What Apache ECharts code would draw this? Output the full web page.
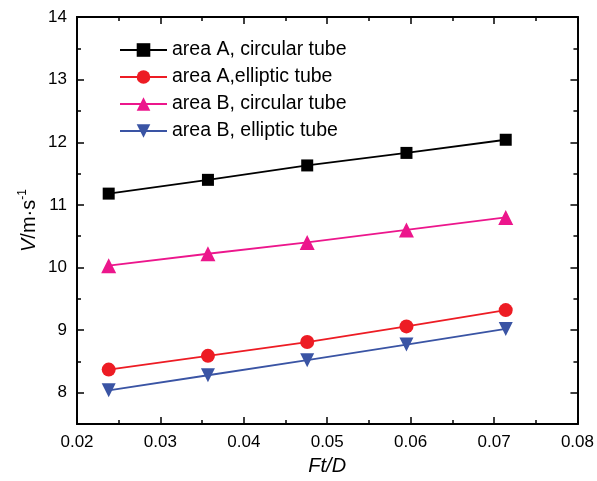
<!DOCTYPE html>
<html><head><meta charset="utf-8">
<script src="https://cdn.jsdelivr.net/npm/echarts@6/dist/echarts.min.js"></script>
<style>html,body{margin:0;padding:0;background:#fff}#c{width:597px;height:481px}</style>
</head><body><div id="c"></div>
<script>
const xValues = [0.0238, 0.0357, 0.0476, 0.0595, 0.0714];
const seriesNames = ['area A, circular tube', 'area A,elliptic tube', 'area B, circular tube', 'area B, elliptic tube'];
const areaACircular = [11.18, 11.40, 11.63, 11.83, 12.04];
const areaAElliptic = [8.37, 8.59, 8.81, 9.06, 9.32];
const areaBCircular = [10.03, 10.22, 10.40, 10.60, 10.80];
const areaBElliptic = [8.04, 8.28, 8.52, 8.77, 9.02];
const yTicks = [8, 9, 10, 11, 12, 13, 14];

const colors = ['#000000', '#ed1c24', '#ec168c', '#3a54a4'];
const symbols = ['rect', 'circle', 'triangle', 'path://M0,0 L10,0 L5,10 Z'];
const symSizes = [12, 14, 15, 14];
const allData = [areaACircular, areaAElliptic, areaBCircular, areaBElliptic];
const FONT = 'Liberation Sans, Arial, sans-serif';

const series = allData.map((vals, i) => ({
  name: seriesNames[i],
  type: 'line',
  data: vals.map((v, j) => [xValues[j], v]),
  symbol: symbols[i],
  symbolSize: symSizes[i],
  showAllSymbol: true,
  itemStyle: { color: colors[i], opacity: 1 },
  lineStyle: { color: colors[i], width: 1.8 },
  emphasis: { disabled: true },
  z: 10 - i
}));

const yBase = { type: 'value', min: 7.5, max: 14, splitLine: { show: false },
  axisLine: { show: true, onZero: false, lineStyle: { color: '#000', width: 1.8 } } };

const chart = echarts.init(document.getElementById('c'), null, { renderer: 'canvas' });
chart.setOption({
  animation: false,
  backgroundColor: '#fff',
  grid: { left: 77, right: 17, top: 17, bottom: 56, containLabel: false },
  legend: {
    orient: 'vertical', left: 114, top: 35,
    itemWidth: 47, itemHeight: 17, itemGap: 7,
    textStyle: { fontFamily: FONT, fontSize: 19.5, color: '#000' },
    data: seriesNames
  },
  xAxis: [
    { type: 'value', min: 0.02, max: 0.08, interval: 0.01, position: 'bottom',
      name: 'Ft/D', nameLocation: 'middle', nameGap: 31,
      nameTextStyle: { fontFamily: FONT, fontSize: 20, fontStyle: 'italic', color: '#000' },
      axisLine: { show: true, onZero: false, lineStyle: { color: '#000', width: 1.8 } },
      axisTick: { show: true, inside: true, length: 7, lineStyle: { color: '#000', width: 1.5 } },
      minorTick: { show: true, splitNumber: 2, length: 4, lineStyle: { color: '#000', width: 1.5 } },
      axisLabel: { fontFamily: FONT, fontSize: 17, color: '#000', margin: 10, formatter: v => v.toFixed(2) },
      splitLine: { show: false } },
    { type: 'value', min: 0.02, max: 0.08, interval: 0.01, position: 'top',
      axisLine: { show: true, onZero: false, lineStyle: { color: '#000', width: 1.8 } },
      axisTick: { show: true, inside: true, length: 7, lineStyle: { color: '#000', width: 1.5 } },
      minorTick: { show: true, splitNumber: 2, length: 4, lineStyle: { color: '#000', width: 1.5 } },
      axisLabel: { show: false }, splitLine: { show: false } }
  ],
  yAxis: [
    Object.assign({}, yBase, { position: 'left', interval: 0.5,
      axisTick: { show: true, inside: true, length: 4, lineStyle: { color: '#000', width: 1.5 } },
      axisLabel: { show: false },
      name: '{i|V}{n|/m·s}{s|-1}', nameLocation: 'middle', nameRotate: 90, nameGap: 36,
      nameTextStyle: { fontFamily: FONT, color: '#000', rich: {
        i: { fontFamily: FONT, fontSize: 20, fontStyle: 'italic', lineHeight: 24 },
        n: { fontFamily: FONT, fontSize: 20, lineHeight: 24 },
        s: { fontFamily: FONT, fontSize: 12, lineHeight: 13, verticalAlign: 'top' } } } }),
    Object.assign({}, yBase, { position: 'left',
      axisTick: { show: true, inside: true, length: 7, customValues: yTicks, lineStyle: { color: '#000', width: 1.5 } },
      axisLabel: { fontFamily: FONT, fontSize: 17, color: '#000', margin: 10, customValues: yTicks } }),
    Object.assign({}, yBase, { position: 'right', interval: 0.5,
      axisTick: { show: true, inside: true, length: 4, lineStyle: { color: '#000', width: 1.5 } },
      axisLabel: { show: false } }),
    Object.assign({}, yBase, { position: 'right',
      axisTick: { show: true, inside: true, length: 7, customValues: yTicks, lineStyle: { color: '#000', width: 1.5 } },
      axisLabel: { show: false } })
  ],
  series: series
});
</script></body></html>
